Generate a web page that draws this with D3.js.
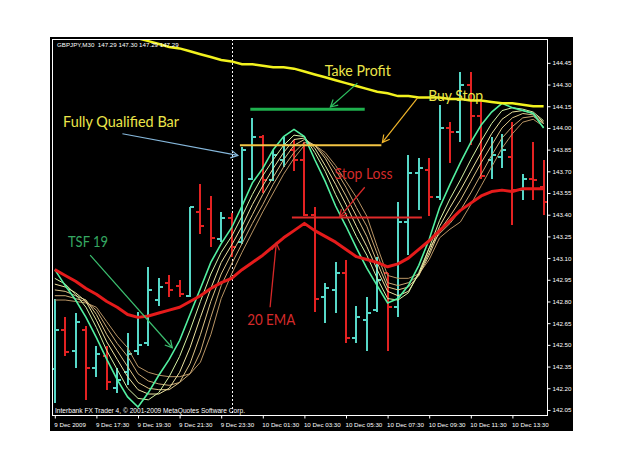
<!DOCTYPE html>
<html><head><meta charset="utf-8">
<script src="https://cdn.jsdelivr.net/npm/d3@7"></script>
<style>body{margin:0;background:#fff}svg{display:block}</style>
</head><body><svg id="c" width="625" height="469"></svg>
<script>
// ---- data (GBPJPY M30, bars indexed from 9 Dec 15:30) ----
const opens=[142.33,142.60,142.46,142.60,142.34,142.42,142.20,142.31,142.46,142.51,142.81,142.93,142.91,142.84,143.42,143.44,143.23,143.38,143.21,143.65,143.94,143.64,143.78,143.85,143.78,143.40,142.83,142.88,143.00,142.55,142.67,142.74,143.00,142.76,143.35,143.69,143.71,143.52,144.00,143.97,144.30,144.08,143.78,143.80,143.80,143.57,143.65,143.59];
const highs=[142.82,142.69,142.72,142.63,142.49,142.49,142.34,142.58,142.73,143.04,142.96,142.98,142.95,143.45,143.61,143.53,143.42,143.41,143.87,144.07,143.95,143.85,143.94,143.92,143.90,143.45,142.93,143.07,143.09,142.77,142.83,143.11,143.00,143.49,143.81,143.79,143.79,144.16,144.04,144.39,144.39,144.19,143.94,143.96,144.04,143.68,143.90,143.78];
const lows=[142.10,142.42,142.34,142.12,142.28,142.19,142.17,142.22,142.43,142.49,142.77,142.83,142.83,142.83,143.27,143.18,143.21,143.11,143.20,143.64,143.55,143.63,143.73,143.70,143.39,142.73,142.65,142.72,142.51,142.51,142.46,142.73,142.46,142.69,143.12,143.43,143.39,143.50,143.76,143.90,143.88,143.65,143.65,143.72,143.33,143.50,143.50,143.40];
const closes=[142.60,142.45,142.66,142.34,142.44,142.24,142.26,142.44,142.50,142.88,142.90,142.88,142.85,143.45,143.32,143.24,143.38,143.18,143.85,143.94,143.64,143.81,143.88,143.78,143.40,142.82,142.89,143.00,142.55,142.69,142.72,142.95,142.76,143.35,143.69,143.72,143.52,144.00,143.97,144.30,144.08,143.67,143.81,143.85,143.57,143.65,143.64,143.49];
const ema20=[143.02,142.98,142.94,142.89,142.85,142.80,142.76,142.71,142.69,142.70,142.72,142.74,142.76,142.80,142.84,142.89,142.93,142.96,143.02,143.07,143.12,143.18,143.24,143.29,143.34,143.29,143.25,143.21,143.16,143.11,143.09,143.07,143.04,143.06,143.10,143.16,143.22,143.29,143.36,143.43,143.48,143.53,143.56,143.57,143.56,143.58,143.58,143.58];
const slowMA=[144.84,144.81,144.78,144.75,144.72,144.69,144.66,144.64,144.62,144.60,144.58,144.56,144.55,144.53,144.51,144.49,144.47,144.46,144.44,144.44,144.43,144.42,144.42,144.41,144.39,144.37,144.35,144.33,144.31,144.29,144.27,144.25,144.24,144.22,144.22,144.21,144.21,144.21,144.20,144.20,144.19,144.19,144.18,144.17,144.17,144.16,144.15,144.15];
const tsf19=[143.02,142.91,142.81,142.69,142.55,142.40,142.26,142.14,142.07,142.17,142.29,142.40,142.53,142.71,142.89,143.07,143.20,143.31,143.46,143.62,143.72,143.85,143.94,143.99,143.94,143.78,143.63,143.46,143.32,143.17,143.03,142.91,142.79,142.82,142.91,143.05,143.23,143.45,143.61,143.76,143.90,144.02,144.11,144.17,144.14,144.12,144.10,144.00];
const ribbon1=[142.96,142.92,142.85,142.76,142.62,142.46,142.33,142.20,142.13,142.12,142.17,142.28,142.42,142.60,142.80,142.99,143.14,143.25,143.39,143.54,143.67,143.78,143.88,143.95,143.94,143.83,143.70,143.54,143.40,143.25,143.12,142.96,142.82,142.81,142.86,143.00,143.17,143.36,143.51,143.64,143.78,143.91,144.03,144.12,144.14,144.13,144.11,144.05];
const ribbon2=[142.92,142.90,142.86,142.80,142.67,142.52,142.40,142.28,142.19,142.16,142.16,142.20,142.31,142.48,142.69,142.89,143.07,143.19,143.32,143.47,143.60,143.72,143.83,143.92,143.93,143.86,143.74,143.61,143.47,143.32,143.18,143.02,142.87,142.84,142.87,142.99,143.14,143.32,143.45,143.57,143.70,143.83,143.96,144.06,144.11,144.12,144.10,144.04];
const ribbon3=[142.88,142.87,142.84,142.81,142.71,142.57,142.46,142.35,142.24,142.20,142.19,142.19,142.24,142.37,142.57,142.80,142.99,143.13,143.26,143.40,143.54,143.66,143.78,143.88,143.92,143.88,143.79,143.66,143.53,143.39,143.25,143.07,142.90,142.88,142.90,142.98,143.12,143.29,143.39,143.50,143.63,143.76,143.88,144.00,144.07,144.10,144.09,144.03];
const ribbon4=[142.84,142.84,142.82,142.80,142.74,142.62,142.51,142.42,142.30,142.25,142.23,142.22,142.24,142.30,142.45,142.69,142.91,143.06,143.20,143.34,143.47,143.61,143.73,143.83,143.90,143.88,143.81,143.71,143.59,143.45,143.32,143.13,142.93,142.91,142.93,142.98,143.17,143.27,143.34,143.43,143.55,143.68,143.81,143.93,144.01,144.07,144.08,144.03];
const ribbon5=[142.81,142.81,142.80,142.79,142.76,142.66,142.56,142.48,142.35,142.31,142.29,142.28,142.28,142.30,142.38,142.57,142.82,142.99,143.14,143.28,143.42,143.55,143.68,143.79,143.88,143.88,143.83,143.74,143.63,143.52,143.39,143.18,142.98,142.96,142.96,142.99,143.09,143.24,143.30,143.35,143.47,143.60,143.73,143.86,143.96,144.04,144.06,144.01];
const priceTicks=[144.45,144.30,144.15,144.00,143.85,143.70,143.55,143.40,143.25,143.10,142.95,142.80,142.65,142.50,142.35,142.20,142.05];
const timeTickIdx=[0,4,8,12,16,20,24,28,32,36,40,44];
const timeLabels=["9 Dec 2009","9 Dec 17:30","9 Dec 19:30","9 Dec 21:30","9 Dec 23:30","10 Dec 01:30","10 Dec 03:30","10 Dec 05:30","10 Dec 07:30","10 Dec 09:30","10 Dec 11:30","10 Dec 13:30"];
const daySeparatorIdx=[17];
// trade levels (bar index span, price)
const takeProfit={from:18.8,to:29.8,price:144.13};
const buyStop={from:17.8,to:31.4,price:143.88};
const stopLoss={from:22.8,to:35.3,price:143.38};

// ---- chart ----
const svg=d3.select('#c');
const F={l:52,t:39,r:547,b:415};
svg.append('rect').attr('x',50).attr('y',37).attr('width',523).attr('height',394).attr('fill','#000');
const x=d3.scaleLinear().domain([0,47]).range([54.8,543.6]);
const y=d3.scaleLinear().domain([142.015,144.615]).range([F.b,F.t]);

svg.append('clipPath').attr('id','pc').append('rect')
  .attr('x',F.l).attr('y',F.t).attr('width',F.r-F.l).attr('height',F.b-F.t);
const plot=svg.append('g').attr('clip-path','url(#pc)');

// day separator
plot.selectAll('line.sep').data(daySeparatorIdx).join('line')
  .attr('x1',d=>Math.round(x(d))+0.5).attr('x2',d=>Math.round(x(d))+0.5)
  .attr('y1',F.t).attr('y2',F.b).attr('stroke','#fff').attr('stroke-dasharray','2,2');

// OHLC bars
const idx=d3.range(opens.length);
const col=i=>closes[i]>=opens[i]?'#56d8c8':'#e32222';
const bg=plot.append('g').attr('shape-rendering','crispEdges');
idx.forEach(i=>{
  const cx=Math.round(x(i));
  bg.append('line').attr('x1',cx).attr('x2',cx).attr('y1',y(highs[i])).attr('y2',y(lows[i]))
    .attr('stroke',col(i)).attr('stroke-width',2);
  bg.append('line').attr('x1',cx-4).attr('x2',cx).attr('y1',Math.round(y(opens[i]))).attr('y2',Math.round(y(opens[i])))
    .attr('stroke',col(i)).attr('stroke-width',2);
  bg.append('line').attr('x1',cx).attr('x2',cx+4).attr('y1',Math.round(y(closes[i]))).attr('y2',Math.round(y(closes[i])))
    .attr('stroke',col(i)).attr('stroke-width',2);
});

const line=d3.line().x((d,i)=>x(i)).y(d=>y(d));
const ribbons=[[ribbon5,'#b89464'],[ribbon4,'#caa874'],[ribbon3,'#dcc488'],[ribbon2,'#ece2a0'],[ribbon1,'#d6f2a4']];
ribbons.forEach(([s,c])=>plot.append('path').attr('d',line(s)).attr('fill','none').attr('stroke',c).attr('stroke-width',1));
plot.append('path').attr('d',line(tsf19)).attr('fill','none').attr('stroke','#52f0a0').attr('stroke-width',1.6);
plot.append('path').attr('d',line(ema20)).attr('fill','none').attr('stroke','#e51b1b').attr('stroke-width',3).attr('stroke-linejoin','round');
plot.append('path').attr('d',line(slowMA)).attr('fill','none').attr('stroke','#f2f21e').attr('stroke-width',2.5);

// trade level lines
const lvl=(o,c,w)=>plot.append('line').attr('x1',x(o.from)).attr('x2',x(o.to)).attr('y1',y(o.price)).attr('y2',y(o.price))
  .attr('stroke',c).attr('stroke-width',w);
lvl(takeProfit,'#1fb04e',3);
lvl(buyStop,'#f3c544',2);
lvl(stopLoss,'#e02a2a',2);

// arrows (anchors in bar index / price)
function arrow(a,b,c,w){
  const x1=x(a[0]),y1=y(a[1]),x2=x(b[0]),y2=y(b[1]);
  const ang=Math.atan2(y2-y1,x2-x1),L=8,h=0.5;
  const g=svg.append('g').attr('stroke',c).attr('stroke-width',w).attr('fill','none');
  g.append('line').attr('x1',x1).attr('y1',y1).attr('x2',x2).attr('y2',y2);
  g.append('path').attr('d',`M${x2-L*Math.cos(ang-h)},${y2-L*Math.sin(ang-h)}L${x2},${y2}L${x2-L*Math.cos(ang+h)},${y2-L*Math.sin(ang+h)}`);
}
arrow([29.1,144.31],[26.5,144.145],'#2ec060',1.2);
arrow([34.9,144.21],[31.5,143.90],'#f0b52a',1.2);
arrow([6.5,143.96],[17.6,143.81],'#86b8dc',1.2);
arrow([29.8,143.59],[27.4,143.385],'#d62828',1.3);
arrow([20.7,142.76],[21.3,143.205],'#d62828',1.3);
arrow([3.4,143.12],[11.3,142.48],'#3cc070',1.2);

// annotation labels
const notes=[
  {t:'Fully Qualified Bar',i:0.79,p:144.007,c:'#ece64a',len:116},
  {t:'Take Profit',i:25.96,p:144.36,c:'#ece64a',len:66},
  {t:'Buy Stop',i:35.9,p:144.187,c:'#ece64a',len:55},
  {t:'Stop Loss',i:26.9,p:143.647,c:'#d42a2a',len:58},
  {t:'20 EMA',i:18.5,p:142.637,c:'#d42a2a',len:48},
  {t:'TSF 19',i:1.27,p:143.177,c:'#36a862',len:40}
];
svg.selectAll('text.note').data(notes).join('text').attr('class','note')
  .attr('x',d=>x(d.i)).attr('y',d=>y(d.p)).attr('fill',d=>d.c)
  .attr('font-family','Lato, "Open Sans", sans-serif').attr('font-size',14.5)
  .attr('textLength',d=>d.len).attr('lengthAdjust','spacingAndGlyphs').text(d=>d.t);

// frame
svg.append('rect').attr('x',F.l+0.5).attr('y',F.t+0.5).attr('width',F.r-F.l).attr('height',F.b-F.t)
  .attr('fill','none').attr('stroke','#fff').attr('stroke-width',1);

// axes
const ya=svg.append('g').attr('transform',`translate(${F.r+0.5},0)`)
  .call(d3.axisRight(y).tickValues(priceTicks).tickSize(3).tickFormat(d3.format('.2f')));
ya.select('.domain').remove();
ya.selectAll('line').attr('stroke','#fff');
ya.selectAll('text').attr('fill','#fff').attr('x',5).attr('font-family','"Liberation Sans", Arial, sans-serif').attr('font-size',6.2);

const xa=svg.append('g').attr('transform',`translate(0,${F.b+0.5})`)
  .call(d3.axisBottom(x).tickValues(timeTickIdx).tickSize(3).tickFormat((d,i)=>timeLabels[i]));
xa.select('.domain').remove();
xa.selectAll('line').attr('stroke','#fff');
xa.selectAll('text').attr('fill','#fff').attr('text-anchor','start').attr('x',-1).attr('y',7.5)
  .attr('font-family','"Liberation Sans", Arial, sans-serif').attr('font-size',6.2);

// header + footer
svg.append('text').attr('x',57).attr('y',47).attr('fill','#fff')
  .attr('font-family','"Liberation Sans", Arial, sans-serif').attr('font-size',6.2)
  .attr('xml:space','preserve').text('GBPJPY,M30  147.29 147.30 147.29 147.29');
svg.append('text').attr('x',55).attr('y',413).attr('fill','#fff')
  .attr('font-family','"Liberation Sans", Arial, sans-serif').attr('font-size',6.4)
  .attr('textLength',190).attr('lengthAdjust','spacingAndGlyphs')
  .text('Interbank FX Trader 4, \u00A9 2001-2009 MetaQuotes Software Corp.');
</script></body></html>
